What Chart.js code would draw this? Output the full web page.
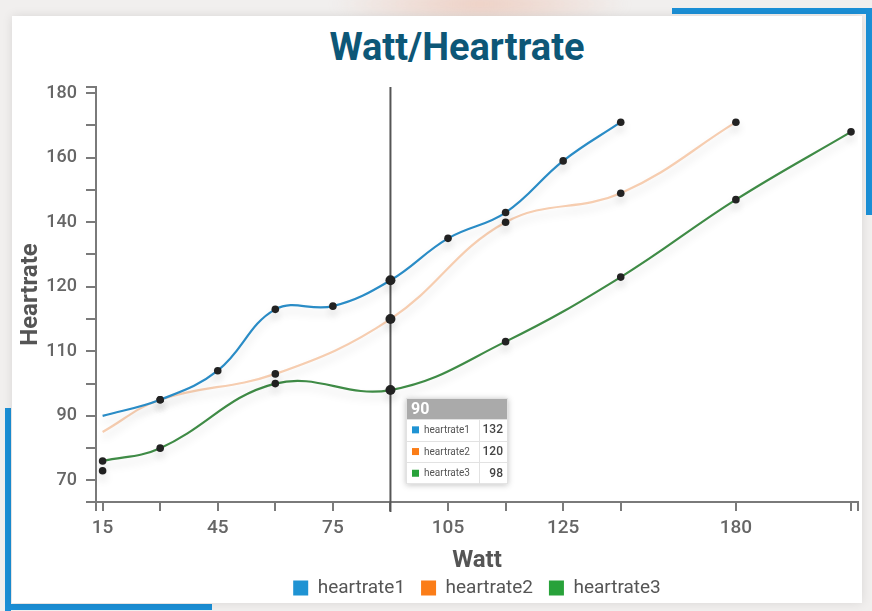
<!DOCTYPE html>
<html>
<head>
<meta charset="utf-8">
<title>Watt/Heartrate</title>
<script src="https://cdn.jsdelivr.net/npm/chart.js@4.4.1/dist/chart.umd.min.js"></script>
<style>
  html, body { margin: 0; padding: 0; width: 872px; height: 611px; overflow: hidden; background: #f1efee; font-family: Roboto, "Noto Sans", sans-serif; }
  #stage { position: relative; width: 872px; height: 611px; }
  .haze { position: absolute; left: 330px; top: -18px; width: 300px; height: 44px; background: radial-gradient(ellipse at center, rgba(236, 190, 172, 0.7), rgba(236, 190, 172, 0) 70%); filter: blur(6px); }
  .card { position: absolute; left: 12px; top: 16px; width: 850px; height: 587px; background: #fff; box-shadow: 0 0 10px rgba(0, 0, 0, 0.10); }
  .accent { position: absolute; background: #1b8fd6; }
  h1 { position: absolute; left: 0; top: 27px; width: 914px; margin: 0; text-align: center; font: 700 38px/40px Roboto, sans-serif; color: #0d5777; }
  canvas { position: absolute; left: 0; top: 0; }
</style>
</head>
<body>
<div id="stage">
  <div class="haze"></div>
  <div class="accent" style="left:672px; top:8px; width:200px; height:6px;"></div>
  <div class="accent" style="left:866px; top:8px; width:6px; height:207px;"></div>
  <div class="accent" style="left:5px; top:408px; width:6px; height:203px;"></div>
  <div class="accent" style="left:5px; top:604px; width:207px; height:6px;"></div>
  <div class="card"></div>
  <h1>Watt/Heartrate</h1>
  <canvas id="chart" width="872" height="611"></canvas>
</div>
<script>
// Measured load (watt) and heart rate for three test runs
const heartrate1Watt = [15, 30, 45, 60, 75, 90, 105, 120, 135, 150];
const heartrate1 = [90, 95, 104, 123, 124, 132, 145, 153, 169, 181];

const heartrate2Watt = [15, 30, 60, 90, 120, 150, 180];
const heartrate2 = [85, 95, 103, 120, 150, 159, 181];

const heartrate3Watt = [15, 30, 60, 90, 120, 150, 180, 210];
const heartrate3 = [76, 80, 100, 98, 113, 133, 157, 178];

// Single resting reading taken before the first stage
const restWatt = [15];
const restHeartrate = [73];

// Axis ticks and the labels printed next to them
const xTickValues = [15, 30, 45, 60, 75, 90, 105, 120, 135, 150, 180, 210];
const xTickLabels = ['15', '', '45', '', '75', '', '105', '', '125', '', '180', ''];
const yTickValues = [70, 80, 90, 100, 110, 120, 130, 140, 150, 160, 170, 180, 190];
const yTickLabels = ['70', '', '90', '', '110', '', '120', '', '140', '', '160', '', '180'];

// Load step highlighted with the guide line and value table
const focusWatt = 90;

const seriesNames = ['heartrate1', 'heartrate2', 'heartrate3'];
const keyColors = ['#1f93d3', '#fb7d18', '#28a23a'];
const lineColors = ['#2a8cc6', '#f6cdb0', '#3f8b46'];

const toPoints = (xs, ys) => xs.map((x, i) => ({ x, y: ys[i] }));

const dotRadius = skipFirst => ctx => {
  if (skipFirst && ctx.dataIndex === 0) return 0;
  return ctx.raw && ctx.raw.x === focusWatt ? 5 : 3.8;
};

const axisGray = '#7a7a7a';

// Draws the vertical guide at the highlighted load
const focusLine = {
  id: 'focusLine',
  beforeDatasetsDraw(chart) {
    const { ctx, chartArea, scales } = chart;
    const px = scales.x.getPixelForValue(focusWatt);
    ctx.save();
    ctx.strokeStyle = '#555';
    ctx.lineWidth = 2;
    ctx.beginPath();
    ctx.moveTo(px, chartArea.top);
    ctx.lineTo(px, chartArea.bottom + 10);
    ctx.stroke();
    ctx.restore();
  }
};

// Soft drop shadow under each curve
const curveShadow = {
  id: 'curveShadow',
  beforeDatasetDraw(chart) {
    const ctx = chart.ctx;
    ctx.save();
    ctx.shadowColor = 'rgba(0,0,0,0.13)';
    ctx.shadowBlur = 8;
    ctx.shadowOffsetY = 6;
  },
  afterDatasetDraw(chart) {
    chart.ctx.restore();
  }
};

// Value table for the highlighted load
const focusTable = {
  id: 'focusTable',
  afterDraw(chart) {
    const { ctx, chartArea, scales } = chart;
    const left = Math.round(scales.x.getPixelForValue(focusWatt)) + 16;
    const top = chartArea.top + 311;
    const w = 102, headH = 21, rowH = 21.7;
    const lists = [[heartrate1Watt, heartrate1], [heartrate2Watt, heartrate2], [heartrate3Watt, heartrate3]];
    const rows = lists.map((l, i) => ({ name: seriesNames[i], color: keyColors[i], value: l[1][l[0].indexOf(focusWatt)] }));
    const h = headH + rows.length * rowH;

    ctx.save();
    ctx.shadowColor = 'rgba(0,0,0,0.25)';
    ctx.shadowBlur = 6;
    ctx.shadowOffsetY = 1;
    ctx.fillStyle = '#fff';
    ctx.fillRect(left, top, w, h);
    ctx.restore();

    ctx.save();
    ctx.fillStyle = '#aaaaaa';
    ctx.fillRect(left, top, w, headH);
    ctx.fillStyle = '#fff';
    ctx.font = 'bold 16px Roboto, sans-serif';
    ctx.textBaseline = 'middle';
    ctx.fillText(String(focusWatt), left + 5, top + headH / 2 + 1);

    ctx.strokeStyle = '#e2e2e2';
    ctx.lineWidth = 1;
    const divX = left + 73.5;
    rows.forEach((r, i) => {
      const y = top + headH + i * rowH;
      ctx.beginPath();
      ctx.moveTo(left, Math.round(y) + 0.5);
      ctx.lineTo(left + w, Math.round(y) + 0.5);
      ctx.stroke();
      ctx.fillStyle = r.color;
      ctx.fillRect(left + 6, y + rowH / 2 - 3.5, 7, 7);
      ctx.fillStyle = '#555';
      ctx.font = '10px Roboto, sans-serif';
      ctx.textAlign = 'left';
      ctx.fillText(r.name, left + 18, y + rowH / 2 + 0.5);
      ctx.fillStyle = '#444';
      ctx.font = '500 12px Roboto, sans-serif';
      ctx.textAlign = 'right';
      ctx.fillText(String(r.value), left + w - 5, y + rowH / 2 + 0.5);
    });
    ctx.beginPath();
    ctx.moveTo(divX, top + headH);
    ctx.lineTo(divX, top + h);
    ctx.stroke();
    ctx.strokeRect(left + 0.5, top + 0.5, w - 1, h - 1);
    ctx.restore();
  }
};

const lineDataset = (i, xs, ys, skipFirst) => ({
  label: seriesNames[i],
  data: toPoints(xs, ys),
  borderColor: lineColors[i],
  backgroundColor: keyColors[i],
  borderWidth: 2.2,
  tension: 0.4,
  fill: false,
  pointRadius: dotRadius(skipFirst),
  pointHoverRadius: dotRadius(skipFirst),
  pointBackgroundColor: '#222',
  pointBorderWidth: 0
});

new Chart(document.getElementById('chart'), {
  type: 'line',
  data: {
    datasets: [
      lineDataset(0, heartrate1Watt, heartrate1, true),
      lineDataset(1, heartrate2Watt, heartrate2, true),
      lineDataset(2, heartrate3Watt, heartrate3, false),
      {
        label: 'rest',
        data: toPoints(restWatt, restHeartrate),
        showLine: false,
        pointRadius: 3.8,
        pointBackgroundColor: '#222',
        pointBorderWidth: 0,
        borderColor: 'transparent',
        backgroundColor: '#222'
      }
    ]
  },
  plugins: [focusLine, curveShadow, focusTable],
  options: {
    responsive: false,
    animation: false,
    events: [],
    layout: { padding: { left: 12, right: 14, top: 87, bottom: 3.5 } },
    scales: {
      x: {
        type: 'linear',
        min: 13.28,
        max: 211.82,
        afterBuildTicks: s => { s.ticks = [s.min, ...xTickValues, s.max].map(v => ({ value: v })); },
        afterFit: s => { s.height = 60.5; },
        ticks: {
          autoSkip: false,
          maxRotation: 0,
          padding: 6,
          color: '#666',
          font: { size: 19, weight: '500', family: 'Roboto' },
          callback: v => { const i = xTickValues.indexOf(v); return i < 0 ? '' : xTickLabels[i]; }
        },
        grid: { drawOnChartArea: false, drawTicks: true, tickLength: 9, color: axisGray, lineWidth: 2 },
        border: { display: true, color: axisGray, width: 2 },
        title: { display: true, text: 'Watt', color: '#555', font: { size: 24, weight: 'bold', family: 'Roboto', lineHeight: 0.14 }, padding: { top: 0, bottom: 0 } }
      },
      y: {
        type: 'linear',
        min: 63.31,
        max: 191.9,
        afterBuildTicks: s => { s.ticks = [s.min, ...yTickValues, s.max].map(v => ({ value: v })); },
        afterFit: s => { s.width = 84; },
        ticks: {
          autoSkip: false,
          padding: 9,
          color: '#666',
          font: { size: 18, weight: '500', family: 'Roboto' },
          callback: v => { const i = yTickValues.indexOf(v); return i < 0 ? '' : yTickLabels[i]; }
        },
        grid: { drawOnChartArea: false, drawTicks: true, tickLength: 10, color: axisGray, lineWidth: 2 },
        border: { display: true, color: axisGray, width: 2 },
        title: { display: true, text: 'Heartrate', color: '#555', font: { size: 24, weight: 'bold', family: 'Roboto' }, padding: { top: 4.5, bottom: 0 } }
      }
    },
    plugins: {
      title: { display: false },
      tooltip: { enabled: false },
      legend: {
        position: 'bottom',
        fullSize: false,
        labels: {
          boxWidth: 15,
          boxHeight: 15,
          padding: 16,
          color: '#555',
          font: { size: 19, family: 'Roboto' },
          filter: item => item.datasetIndex < 3,
          generateLabels: chart => seriesNames.map((name, i) => ({
            text: name,
            fillStyle: keyColors[i],
            strokeStyle: keyColors[i],
            lineWidth: 0,
            hidden: false,
            datasetIndex: i,
            fontColor: '#555'
          }))
        }
      }
    }
  }
});
</script>
</body>
</html>
